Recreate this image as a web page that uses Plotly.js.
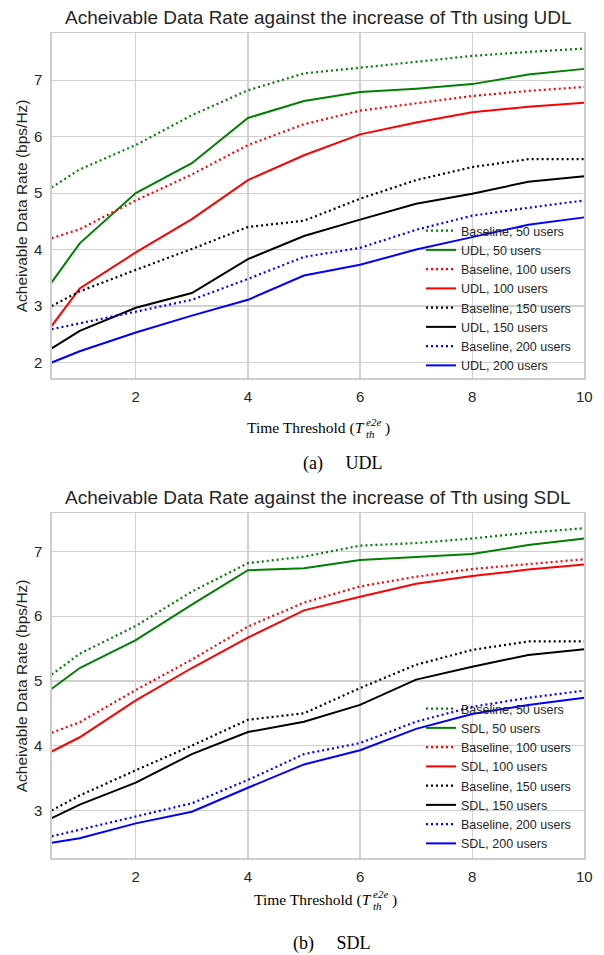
<!DOCTYPE html>
<html>
<head>
<meta charset="utf-8">
<script src="https://cdn.plot.ly/plotly-3.0.1.min.js"></script>
<style>html,body{margin:0;padding:0;background:#fff;}#chart{width:604px;height:955px;}</style>
</head>
<body>
<div id="chart"></div>
<script>
// ---------- data ----------
const thresholds = [0.5, 1, 2, 3, 4, 5, 6, 7, 8, 9, 10];

// (a) UDL panel
const udlBaseline50  = [5.10, 5.42, 5.85, 6.38, 6.82, 7.12, 7.22, 7.33, 7.43, 7.50, 7.56];
const udl50          = [3.42, 4.11, 5.00, 5.53, 6.33, 6.63, 6.79, 6.85, 6.93, 7.10, 7.20];
const udlBaseline100 = [4.20, 4.36, 4.87, 5.33, 5.85, 6.22, 6.46, 6.59, 6.72, 6.81, 6.88];
const udl100         = [2.65, 3.31, 3.95, 4.54, 5.23, 5.67, 6.04, 6.25, 6.43, 6.53, 6.60];
const udlBaseline150 = [3.00, 3.26, 3.64, 4.01, 4.40, 4.51, 4.90, 5.23, 5.46, 5.60, 5.60];
const udl150         = [2.25, 2.56, 2.97, 3.23, 3.83, 4.24, 4.53, 4.81, 4.99, 5.20, 5.30];
const udlBaseline200 = [2.59, 2.69, 2.90, 3.11, 3.48, 3.87, 4.03, 4.35, 4.60, 4.74, 4.87];
const udl200         = [2.00, 2.20, 2.53, 2.83, 3.11, 3.54, 3.73, 4.00, 4.22, 4.44, 4.57];

// (b) SDL panel
const sdlBaseline50  = [5.10, 5.42, 5.85, 6.38, 6.82, 6.92, 7.09, 7.13, 7.20, 7.29, 7.36];
const sdl50          = [4.88, 5.20, 5.63, 6.18, 6.71, 6.74, 6.87, 6.91, 6.96, 7.10, 7.20];
const sdlBaseline100 = [4.20, 4.36, 4.86, 5.33, 5.84, 6.21, 6.46, 6.61, 6.73, 6.81, 6.88];
const sdl100         = [3.91, 4.13, 4.70, 5.20, 5.67, 6.09, 6.30, 6.50, 6.62, 6.72, 6.80];
const sdlBaseline150 = [3.00, 3.23, 3.62, 4.00, 4.40, 4.50, 4.89, 5.25, 5.48, 5.61, 5.61];
const sdl150         = [2.88, 3.09, 3.43, 3.87, 4.21, 4.37, 4.63, 5.02, 5.22, 5.40, 5.49];
const sdlBaseline200 = [2.60, 2.70, 2.90, 3.11, 3.47, 3.87, 4.04, 4.37, 4.60, 4.74, 4.85];
const sdl200         = [2.50, 2.57, 2.80, 2.98, 3.35, 3.71, 3.93, 4.26, 4.49, 4.63, 4.74];

const userCounts = [50, 100, 150, 200];
const seriesColors = ['#008000', '#ff0000', '#000000', '#0000ff'];
const xTicks = [2, 4, 6, 8, 10];

const panelTitles = [
  'Acheivable Data Rate against the increase of Tth using UDL',
  'Acheivable Data Rate against the increase of Tth using SDL'
];
const yLabel = 'Acheivable Data Rate (bps/Hz)';
const captions = ['(a)\u00a0\u00a0\u00a0\u00a0\u00a0UDL', '(b)\u00a0\u00a0\u00a0\u00a0\u00a0SDL'];
const schemeNames = ['UDL', 'SDL'];

// ---------- build ----------
const W = 604, H = 955;
const px = p => p / W;
const py = p => 1 - p / H;

const panels = [
  {base: [udlBaseline50, udlBaseline100, udlBaseline150, udlBaseline200],
   prop: [udl50, udl100, udl150, udl200], xa: 'x', ya: 'y', leg: 'legend'},
  {base: [sdlBaseline50, sdlBaseline100, sdlBaseline150, sdlBaseline200],
   prop: [sdl50, sdl100, sdl150, sdl200], xa: 'x2', ya: 'y2', leg: 'legend2'}
];

const traces = [];
panels.forEach((p, pi) => {
  userCounts.forEach((u, i) => {
    traces.push({
      x: thresholds, y: p.base[i], type: 'scatter', mode: 'lines',
      name: 'Baseline, ' + u + ' users', xaxis: p.xa, yaxis: p.ya, legend: p.leg,
      line: {color: seriesColors[i], width: 2.2, dash: '2px,3px'}
    });
    traces.push({
      x: thresholds, y: p.prop[i], type: 'scatter', mode: 'lines',
      name: schemeNames[pi] + ', ' + u + ' users', xaxis: p.xa, yaxis: p.ya, legend: p.leg,
      line: {color: seriesColors[i], width: 2}
    });
  });
});

const plotLeft = 51.7, plotRight = 584.3;
const panelTop = [33.3, 513.3], panelBottom = [378.3, 858.3];
const yRanges = [[1.72, 7.83], [2.26, 7.59]];

const tickFont = {family: 'Liberation Sans, Arial, sans-serif', size: 15, color: '#262626'};
function xAxis(anchor) {
  return {domain: [px(plotLeft), px(plotRight)], range: [0.5, 10], anchor: anchor,
    tickvals: xTicks, ticks: '', showgrid: true, gridcolor: '#d0d0d0', gridwidth: 1.2,
    zeroline: false, showline: true, linecolor: '#cccccc', linewidth: 1.3, mirror: true,
    tickfont: tickFont, ticklabelstandoff: 4};
}
function yAxis(anchor, pi) {
  return {domain: [py(panelBottom[pi]), py(panelTop[pi])], range: yRanges[pi], anchor: anchor,
    dtick: 1, tick0: 0, ticks: '', showgrid: true, gridcolor: '#d0d0d0', gridwidth: 1.2,
    zeroline: false, showline: true, linecolor: '#cccccc', linewidth: 1.3, mirror: true,
    tickfont: tickFont, ticklabelstandoff: 5};
}

const annotations = [];
const sans = 'Liberation Sans, Arial, sans-serif';
const serif = 'Liberation Serif, Times New Roman, serif';
const titleY = [18, 498];
const xlabY = [428, 900];
const xlabShift = [0, 7];
const capY = [463, 943];
const capX = [342, 332];
for (let pi = 0; pi < 2; pi++) {
  const mid = (plotLeft + plotRight) / 2;
  annotations.push({text: panelTitles[pi], xref: 'paper', yref: 'paper', x: px(mid), y: py(titleY[pi]),
    xanchor: 'center', yanchor: 'middle', showarrow: false,
    font: {family: sans, size: 19, color: '#262626'}});
  annotations.push({text: yLabel, xref: 'paper', yref: 'paper', x: px(21.5),
    y: py((panelTop[pi] + panelBottom[pi]) / 2), textangle: -90,
    xanchor: 'center', yanchor: 'middle', showarrow: false,
    font: {family: sans, size: 15.5, color: '#262626'}});
  const tEnd = 367 + xlabShift[pi];
  annotations.push({text: 'Time Threshold (<i>T</i>', xref: 'paper', yref: 'paper', x: px(tEnd), y: py(xlabY[pi]),
    xanchor: 'right', yanchor: 'middle', showarrow: false, font: {family: serif, size: 15.5, color: '#000'}});
  annotations.push({text: '<i>e2e</i>', xref: 'paper', yref: 'paper', x: px(tEnd - 2.5), y: py(xlabY[pi] - 6),
    xanchor: 'left', yanchor: 'middle', showarrow: false, font: {family: serif, size: 11, color: '#000'}});
  annotations.push({text: '<i>th</i>', xref: 'paper', yref: 'paper', x: px(tEnd - 3.5), y: py(xlabY[pi] + 6),
    xanchor: 'left', yanchor: 'middle', showarrow: false, font: {family: serif, size: 11, color: '#000'}});
  annotations.push({text: ')', xref: 'paper', yref: 'paper', x: px(tEnd + 16), y: py(xlabY[pi]),
    xanchor: 'left', yanchor: 'middle', showarrow: false, font: {family: serif, size: 15.5, color: '#000'}});
  annotations.push({text: captions[pi], xref: 'paper', yref: 'paper', x: px(capX[pi]), y: py(capY[pi]),
    xanchor: 'center', yanchor: 'middle', showarrow: false, font: {family: serif, size: 18, color: '#000'}});
}

const legendBase = {bgcolor: 'rgba(0,0,0,0)', borderwidth: 0, xanchor: 'left', yanchor: 'top',
  font: {family: sans, size: 12.5, color: '#262626'}, tracegroupgap: 0};

const layout = {
  width: W, height: H, autosize: false,
  margin: {l: 0, r: 0, t: 0, b: 0, pad: 0},
  paper_bgcolor: '#ffffff', plot_bgcolor: '#ffffff',
  xaxis: xAxis('y'), yaxis: yAxis('x', 0),
  xaxis2: xAxis('y2'), yaxis2: yAxis('x2', 1),
  legend: Object.assign({}, legendBase, {x: px(421), y: py(216)}),
  legend2: Object.assign({}, legendBase, {x: px(421), y: py(694)}),
  annotations: annotations,
  showlegend: true
};

Plotly.newPlot('chart', traces, layout, {staticPlot: true, displayModeBar: false});
</script>
</body>
</html>
